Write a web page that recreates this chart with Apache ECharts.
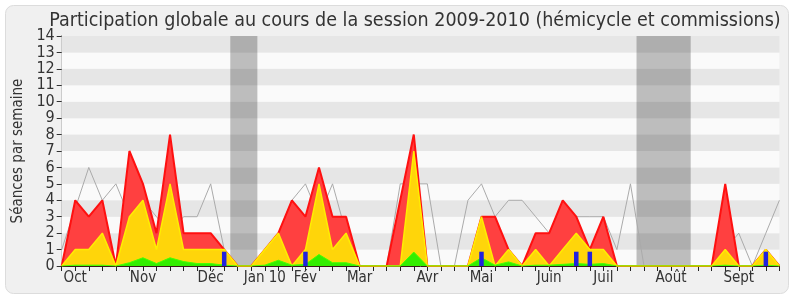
<!DOCTYPE html>
<html>
<head>
<meta charset="utf-8">
<script src="https://cdn.jsdelivr.net/npm/echarts@6/dist/echarts.min.js"></script>
<style>
html,body{margin:0;padding:0;background:#ffffff;}
#c{width:800px;height:300px;}
</style>
</head>
<body>
<div id="c"></div>
<script>
// ---- data (weekly, index 0..53) ----
var weeks = [];
for (var k = 0; k <= 53; k++) weeks.push(k);

var totalPresence = [0,4,3,4,0,7,5,2,8,2,2,2,1,0,0,1,2,4,3,6,3,3,0,0,0,4,8,0,0,0,0,3,3,1,0,2,2,4,3,1,3,0,0,0,0,0,0,0,0,5,0,0,1,0];
var hemicyclePresence = [0,1,1,2,0,3,4,1,5,1,1,1,1,0,0,1,2,0,1,5,1,2,0,0,0,0,7,0,0,0,0,3,0,1,0,1,0,1,2,1,1,0,0,0,0,0,0,0,0,1,0,0,1,0];
var interventions = [0,0.05,0.05,0.05,0,0.2,0.5,0.15,0.5,0.27,0.15,0.15,0.05,0,0,0.05,0.35,0.05,0.1,0.7,0.2,0.2,0,0,0,0,0.85,0,0,0,0,0.5,0.05,0.25,0,0.05,0.05,0.1,0.15,0.1,0.15,0,0,0,0,0,0,0,0,0.05,0,0,0.05,0];
var medianAll = [1,3.5,6,4,5,3,4,3,2,3,3,5,1,0,0,1,2,4,5,3,5,2,0,0,0,5,5,5,0,0,4,5,3,4,4,3,2,3,3,3,3,1,5,0,0,0,0,0,0,1,2,0,2,4];
var questionWeeks = [12,18,31,38,39,52];
var questionValues = [0.87,0.87,0.87,0.87,0.87,0.87];

var vacationStart = [12.45, 42.45];
var vacationEnd = [14.45, 46.45];

var monthTickIdx = [1,6,11,15,18,22,27,31,36,40,45,50];
var monthLabels = ['Oct','Nov','Déc','Jan 10','Fév','Mar','Avr','Mai','Juin','Juil','Août','Sept'];

var yTicks = [0,1,2,3,4,5,6,7,8,9,10,11,12,13,14];

function pairs(arr){ return weeks.map(function(w,i){ return [w, arr[i]]; }); }

var FONT = 'DejaVu Sans Condensed, DejaVu Sans, sans-serif';

var chart = echarts.init(document.getElementById('c'), null, {renderer:'canvas'});
var option = {
  animation:false,
  backgroundColor:'#ffffff',
  graphic:[{
    type:'rect', z:-10, silent:true,
    shape:{x:5.5,y:5.5,width:783,height:288,r:8},
    style:{fill:'#f0f0f0',stroke:'#dcdcdc',lineWidth:1}
  }],
  title:{
    text:'Participation globale au cours de la session 2009-2010 (hémicycle et commissions)',
    left:410, top:6, textAlign:'center',
    textStyle:{fontFamily:FONT,fontSize:19.5,fontWeight:'normal',color:'#333333'}
  },
  grid:{left:61.7,right:20.6,top:36,bottom:34,containLabel:false,outerBoundsMode:'none'},
  xAxis:[{
    type:'value', min:0, max:53, interval:1,
    axisLine:{show:true,lineStyle:{color:'#3a1a1a',width:1}},
    axisTick:{show:true,length:5,lineStyle:{color:'#222'}},
    splitLine:{show:false},
    axisLabel:{
      show:true, margin:5, interval:0, hideOverlap:false,
      fontFamily:FONT, fontSize:15, color:'#333333',
      formatter:function(v){ var j = monthTickIdx.indexOf(Math.round(v)); return j>=0 ? monthLabels[j] : ''; }
    }
  },{
    type:'value', position:'top', min:0, max:53, interval:1,
    axisLine:{show:false},
    axisTick:{show:true,length:1,lineStyle:{color:'#222'}},
    axisLabel:{show:false}, splitLine:{show:false}
  }],
  yAxis:[{
    type:'value', min:0, max:14, interval:1,
    name:'Séances par semaine', nameLocation:'middle', nameGap:36,
    nameTextStyle:{fontFamily:FONT,fontSize:15,color:'#333333'},
    axisLine:{show:true,lineStyle:{color:'#333333'}},
    axisTick:{show:true,length:5,lineStyle:{color:'#333333'}},
    axisLabel:{margin:7,fontFamily:FONT,fontSize:16,color:'#333333',
      formatter:function(v){ return yTicks.indexOf(v)>=0 ? String(v) : ''; }},
    splitLine:{show:false},
    splitArea:{show:true,areaStyle:{color:['#fafafa','#e6e6e6']}}
  },{
    type:'value', position:'right', min:0, max:14, interval:1,
    axisLine:{show:true,lineStyle:{color:'#cccccc'}},
    axisTick:{show:false}, axisLabel:{show:false}, splitLine:{show:false}
  }],
  series:[
    {
      name:'vacances', type:'line', data:[], z:1, silent:true,
      markArea:{silent:true,
        itemStyle:{color:'rgba(0,0,0,0.245)'},
        data: vacationStart.map(function(s,i){ return [{xAxis:s},{xAxis:vacationEnd[i]}]; })
      }
    },
    {
      name:'médiane', type:'line', data:pairs(medianAll), z:2, symbol:'none',
      lineStyle:{color:'#aaaaaa',width:1}
    },
    {
      name:'présence', type:'line', data:pairs(totalPresence), z:3, symbol:'none',
      lineStyle:{color:'#ff1010',width:2},
      areaStyle:{color:'#ff4040',opacity:1}
    },
    {
      name:'hémicycle', type:'line', data:pairs(hemicyclePresence), z:4, symbol:'none',
      lineStyle:{color:'#ffee00',width:1.5},
      areaStyle:{color:'#ffd50a',opacity:1}
    },
    {
      name:'interventions', type:'line', data:pairs(interventions), z:5, symbol:'none',
      lineStyle:{color:'#44ff00',width:1},
      areaStyle:{color:'#33ee00',opacity:1}
    },
    {
      name:'questions', type:'bar', z:6, barWidth:4.5,
      data: questionWeeks.map(function(w,i){ return [w, questionValues[i]]; }),
      itemStyle:{color:'#2222dd'}
    }
  ]
};
chart.setOption(option);
</script>
</body>
</html>
